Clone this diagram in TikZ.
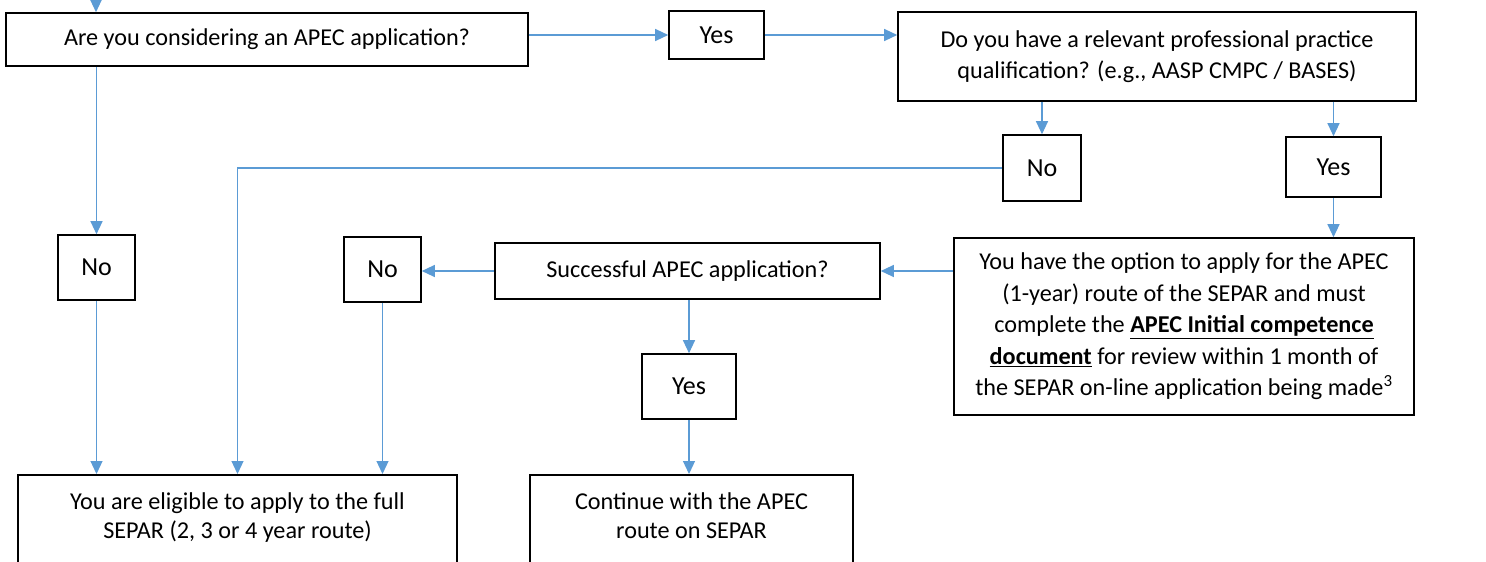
\documentclass[tikz,border=0pt]{standalone}
\usepackage{fontspec}
\setmainfont{Carlito}
\usetikzlibrary{positioning,arrows.meta}
\definecolor{flowblue}{RGB}{91,155,213}

\begin{document}
\begin{tikzpicture}[x=1pt,y=-1pt,
	box/.style={draw,line width=1.6pt,align=center,inner sep=4pt,
		font=\fontsize{24.2}{31.5}\selectfont},
	answer/.style={box,font=\fontsize{26}{30}\selectfont},
	lowbox/.style={box,anchor=north,inner ysep=8pt,text height=56pt,text depth=100pt,
		font=\fontsize{24.2}{29}\selectfont},
	flow/.style={color=flowblue,line width=1.2pt,-{Triangle[length=13pt,width=12pt]}}]
	\path[use as bounding box] (0,0) rectangle (1486,562);
	\clip (0,0) rectangle (1486,562);

	\coordinate (entry) at (96,-30);
	\node[box,minimum width=522,minimum height=53] (apec) at (267,39.5) {Are you considering an APEC application?};
	\node[answer,minimum width=95,minimum height=48] (yes1) at (716.5,35) {Yes};
	\node[box,minimum width=518,minimum height=89] (qual) at (1157,56.5) {Do you have a relevant professional practice\\qualification? (e.g., AASP CMPC / BASES)};
	\node[answer,minimum width=78,minimum height=66] (no2) at (1042,168) {No};
	\node[answer,minimum width=95,minimum height=60] (yes2) at (1333.5,167) {Yes};
	\node[box,minimum width=460,minimum height=177] (option) at (1184,326.5) {You have the option to apply for the APEC\\(1-year) route of the SEPAR and must\\complete the \underline{\textbf{APEC Initial competence}}\\\underline{\textbf{document}} for review within 1 month of\\the SEPAR on-line application being made\textsuperscript{3}};
	\node[box,minimum width=385,minimum height=56] (success) at (687.5,271) {Successful APEC application?};
	\node[answer,minimum width=77,minimum height=65] (no3) at (382.5,269.5) {No};
	\node[answer,minimum width=77,minimum height=65] (no1) at (96.5,267.5) {No};
	\node[answer,minimum width=94,minimum height=65] (yes3) at (689,386.5) {Yes};
	\node[lowbox,minimum width=439] (full) at (237.5,474) {You are eligible to apply to the full\\SEPAR (2, 3 or 4 year route)};
	\node[lowbox,minimum width=323] (cont) at (691.5,474) {Continue with the APEC\\route on SEPAR};

	\path
	(entry) edge[flow] (entry |- apec.north)
	(yes1.west -| apec.east) edge[flow] (yes1.west)
	(yes1.east) edge[flow] (yes1.east -| qual.west)
	(no2.north |- qual.south) edge[flow] (no2.north)
	(yes2.north |- qual.south) edge[flow] (yes2.north)
	(yes2.south) edge[flow] (yes2.south |- option.north)
	(success.east -| option.west) edge[flow] (success.east)
	(success.west) edge[flow] (success.west -| no3.east)
	(no1.north |- apec.south) edge[flow] (no1.north)
	(no1.south) edge[flow] (no1.south |- full.north)
	(no3.south) edge[flow] (no3.south |- full.north)
	(success.south -| yes3.north) edge[flow] (yes3.north)
	(yes3.south) edge[flow] (yes3.south |- cont.north);
	\draw[flow] (no2.west) -| (full.north);
\end{tikzpicture}
\end{document}
